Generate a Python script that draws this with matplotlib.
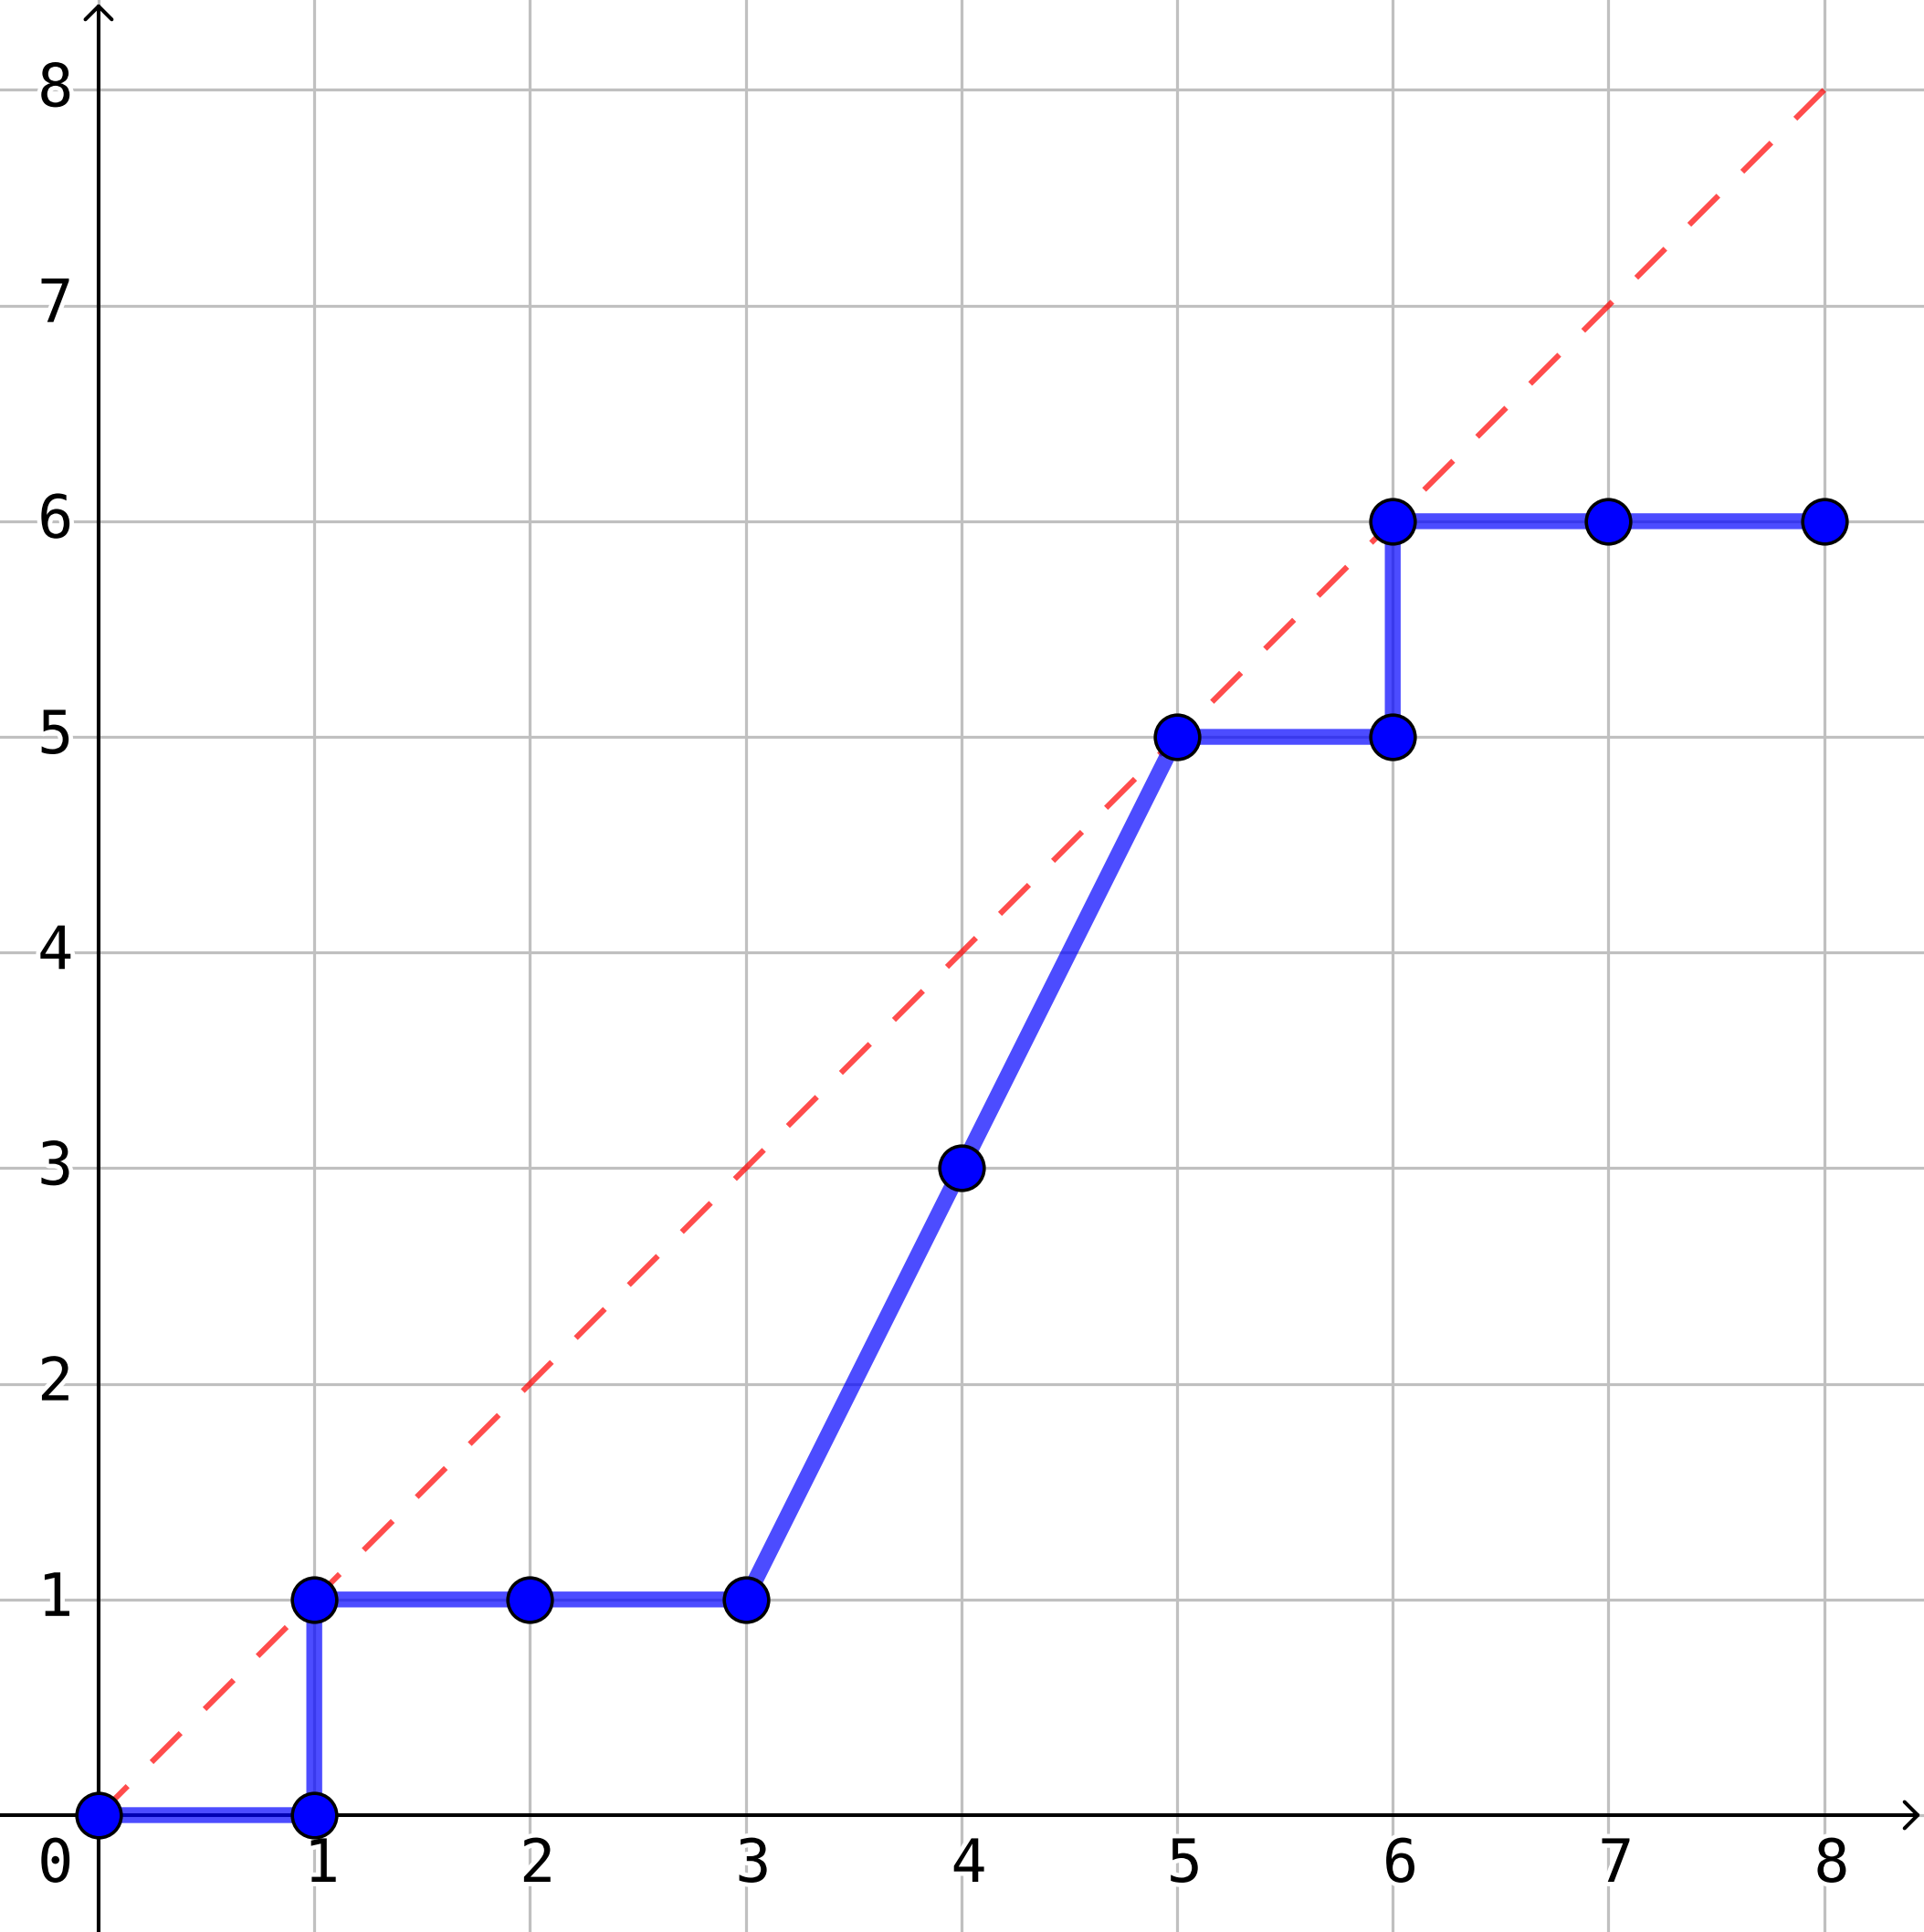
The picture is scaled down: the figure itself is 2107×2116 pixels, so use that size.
import matplotlib.pyplot as plt
import matplotlib.patheffects as pe

# data
xs = [0, 1, 1, 2, 3, 4, 5, 6, 6, 7, 8]
ys = [0, 0, 1, 1, 1, 3, 5, 5, 6, 6, 6]
diag = [0, 8]
ticks = [1, 2, 3, 4, 5, 6, 7, 8]

fig = plt.figure(figsize=(21.07, 21.16), dpi=100)
ax = fig.add_axes([0, 0, 1, 1])
ax.set_xlim(-0.457, 8.463)
ax.set_ylim(-0.542, 8.417)
for s in ax.spines.values():
    s.set_visible(False)
ax.set_xticks([])
ax.set_yticks([])

# grid
for t in [0] + ticks:
    ax.axvline(t, color='#c0c0c0', lw=2.3, zorder=1)
    ax.axhline(t, color='#c0c0c0', lw=2.3, zorder=1)

# axes with arrows
arw = dict(arrowstyle='->,head_length=0.4,head_width=0.4', lw=2.9, color='black',
           mutation_scale=26, shrinkA=0, shrinkB=0)
ax.annotate('', xy=(8.446, 0), xytext=(-0.46, 0), arrowprops=arw, zorder=2)
ax.annotate('', xy=(0, 8.40), xytext=(0, -0.55), arrowprops=arw, zorder=2)

# y = x reference
ax.plot(diag, diag, color='red', alpha=0.7, lw=4.4, dashes=[7.364, 6.073], zorder=3)

# step curve
ax.plot(xs, ys, color='blue', alpha=0.7, lw=12.5, solid_joinstyle='miter', zorder=4)
ax.plot(xs, ys, 'o', ms=35, mfc='#0000ff', mec='black', mew=2.6, zorder=5)

# tick labels
lab = dict(fontsize=47, family='DejaVu Sans Mono', ha='center', va='center',
           zorder=2.5, path_effects=[pe.withStroke(linewidth=7, foreground='white')])
ax.text(-0.2, -0.233, '0', **lab)
for t in ticks:
    ax.text(t + 0.035, -0.233, str(t), **lab)
    ax.text(-0.2, t, str(t), **lab)

plt.savefig('out.png', dpi=100)
